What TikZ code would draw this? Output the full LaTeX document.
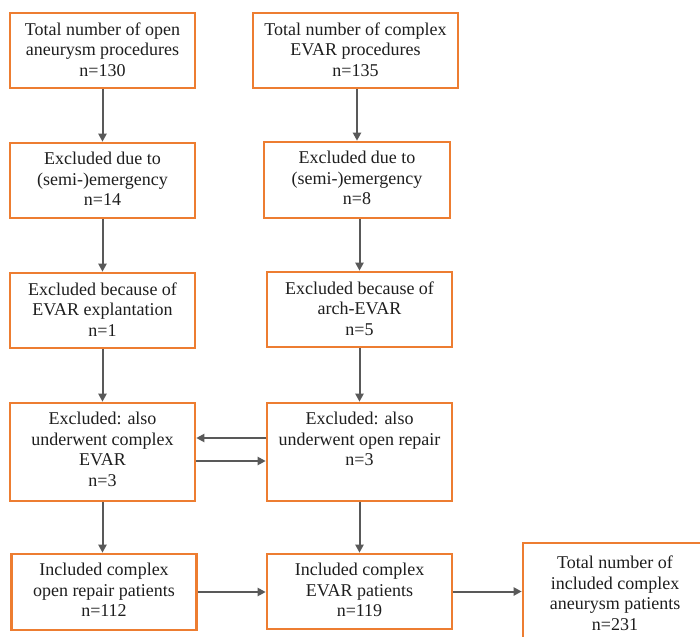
\documentclass[tikz,border=0pt]{standalone}
\usepackage{fontspec}
\setmainfont{Liberation Serif}
\usetikzlibrary{arrows.meta}
\definecolor{boxorange}{RGB}{237,125,49}
\definecolor{arrgray}{RGB}{89,89,89}
\definecolor{txt}{RGB}{30,30,30}
\tikzset{
  box/.style={draw=boxorange, line width=2.6pt, fill=white, inner sep=0pt},
  lbl/.style={anchor=north, align=center, inner sep=0pt, text=txt,
    font=\fontsize{18pt}{20.5pt}\selectfont},
  arr/.style={draw=arrgray, line width=2pt, -{Triangle[length=8pt,width=8pt]}}
}
\begin{document}
\begin{tikzpicture}[x=1pt,y=-1pt]
\clip (0,0) rectangle (700,636);
\fill[white] (0,0) rectangle (700,636);
% left column
\node[box, minimum width=185pt, minimum height=75pt] (a1) at (102.5,50.5) {};
\node[box, minimum width=185pt, minimum height=75pt] (a2) at (102.5,180.5) {};
\node[box, minimum width=185pt, minimum height=75pt] (a3) at (102.5,310.5) {};
\node[box, minimum width=185pt, minimum height=98pt] (a4) at (102.5,452) {};
\node[box, minimum width=185pt, minimum height=76pt] (a5) at (104,592) {};
% right column
\node[box, minimum width=205pt, minimum height=75pt] (b1) at (355.5,50.5) {};
\node[box, minimum width=186pt, minimum height=76pt] (b2) at (357,180) {};
\node[box, minimum width=185pt, minimum height=75pt] (b3) at (359.5,309.5) {};
\node[box, minimum width=185pt, minimum height=98pt] (b4) at (359.5,452) {};
\node[box, minimum width=185pt, minimum height=75pt] (b5) at (359.5,591.5) {};
% final box
\node[box, minimum width=184pt, minimum height=104pt] (c) at (615,595) {};
% labels
\node[lbl, below=10.5pt] (ta1) at (a1.north) {Total number of open\\aneurysm procedures\\n=130};
\node[lbl, below=10.5pt] (ta2) at (a2.north) {Excluded due to\\(semi-)emergency\\n=14};
\node[lbl, below=10.5pt] (ta3) at (a3.north) {Excluded because of\\EVAR explantation\\n=1};
\node[lbl, below=10.5pt] (ta4) at (a4.north) {Excluded: also\\underwent complex\\EVAR\\n=3};
\node[lbl, below=10.5pt] (ta5) at (a5.north) {Included complex\\open repair patients\\n=112};
\node[lbl, below=10.5pt] (tb1) at (b1.north) {Total number of complex\\EVAR procedures\\n=135};
\node[lbl, below=10.5pt] (tb2) at (b2.north) {Excluded due to\\(semi-)emergency\\n=8};
\node[lbl, below=10.5pt] (tb3) at (b3.north) {Excluded because of\\arch-EVAR\\n=5};
\node[lbl, below=10.5pt] (tb4) at (b4.north) {Excluded: also\\underwent open repair\\n=3};
\node[lbl, below=10.5pt] (tb5) at (b5.north) {Included complex\\EVAR patients\\n=119};
\node[lbl, below=14pt] (tc) at (c.north) {Total number of\\included complex\\aneurysm patients\\n=231};
% vertical arrows
\draw[arr] (a1.south) -- (a2.north);
\draw[arr] (a2.south) -- (a3.north);
\draw[arr] (a3.south) -- (a4.north);
\draw[arr] (a4.south) -- (a4.south |- a5.north);
\draw[arr] ([xshift=1.5pt]b1.south) -- ([xshift=1.5pt]b1.south |- b2.north);
\draw[arr] (b3.north |- b2.south) -- (b3.north);
\draw[arr] (b3.south) -- (b4.north);
\draw[arr] (b4.south) -- (b5.north);
% horizontal arrows
\draw[arr] ([yshift=14pt]b4.west) -- ([yshift=14pt]b4.west -| a4.east);
\draw[arr] ([yshift=-9pt]a4.east) -- ([yshift=-9pt]a4.east -| b4.west);
\draw[arr] (a5.east) -- (a5.east -| b5.west);
\draw[arr] (b5.east) -- (b5.east -| c.west);
\end{tikzpicture}
\end{document}
